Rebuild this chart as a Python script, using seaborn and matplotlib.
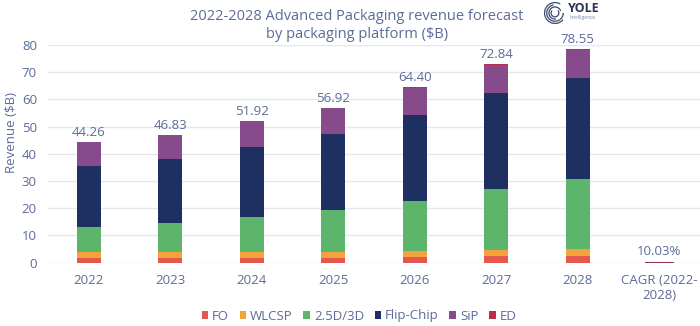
import matplotlib
matplotlib.use("Agg")
import matplotlib.pyplot as plt
import seaborn as sns
import pandas as pd
import numpy as np
from matplotlib.patches import Arc

years = ["2022", "2023", "2024", "2025", "2026", "2027", "2028"]
cagr_label = "CAGR (2022-\n2028)"
series = ["FO", "WLCSP", "2.5D/3D", "Flip-Chip", "SiP", "ED"]
fo = [1.6, 1.6, 1.8, 1.8, 2.2, 2.5, 2.6]
wlcsp = [2.2, 2.2, 2.2, 2.3, 2.2, 2.2, 2.4]
d25 = [9.2, 10.8, 12.8, 15.2, 18.4, 22.5, 25.9]
flipchip = [22.5, 23.4, 25.7, 28.0, 31.5, 35.2, 36.8]
sip = [8.7, 8.8, 9.4, 9.6, 10.0, 10.4, 10.5]
ed = [0.06, 0.03, 0.02, 0.02, 0.1, 0.04, 0.35]
totals = ["44.26", "46.83", "51.92", "56.92", "64.40", "72.84", "78.55"]
cagr_value = 0.35
cagr_text = "10.03%"
colors = ["#E5584F", "#F2A43A", "#5DB56B", "#1E3061", "#874A8A", "#BE2A50"]
cagr_color = "#8E3157"
text_color = "#5D6B98"

sns.set_theme(style="white")
plt.rcParams["font.family"] = ["Open Sans", "DejaVu Sans"]

categories = years + [cagr_label]
rows = []
for s, vals in zip(series, [fo, wlcsp, d25, flipchip, sip, ed]):
    for y, v in zip(years, vals):
        rows.append({"cat": y, "series": s, "value": v})
df = pd.DataFrame(rows)

fig = plt.figure(figsize=(7.0, 3.26), dpi=100)
ax = fig.add_axes([48/700, 1-262.7/326, 1-48/700, (262.7-45)/326])

bw = 0.295
bottom = np.zeros(len(years))
for s, c in zip(series, colors):
    sub = df[df["series"] == s].set_index("cat").loc[years]
    vals = sub["value"].values
    ax.bar(np.arange(len(years)), vals, bottom=bottom, width=bw, color=c,
           label=s, edgecolor="none", zorder=3)
    bottom = bottom + vals
ax.bar([len(years)], [cagr_value], width=bw*1.2, color=cagr_color, edgecolor="none", zorder=3)

for i, t in enumerate(totals):
    ax.text(i, bottom[i] + 1.2, t, ha="center", va="bottom", fontsize=9.5,
            color=text_color, clip_on=False)
ax.text(len(years), cagr_value + 1.2, cagr_text, ha="center", va="bottom",
        fontsize=9.5, color=text_color)

ax.set_xlim(-0.5, len(categories) - 0.5)
ax.set_ylim(0, 80)
ax.set_yticks(range(0, 81, 10))
ax.set_xticks(range(len(categories)))
ax.set_xticklabels(categories)
ax.tick_params(axis="both", colors=text_color, labelsize=9.5, length=0)
ax.tick_params(axis="x", pad=8)
ax.tick_params(axis="y", pad=8)
for lab in ax.get_xticklabels() + ax.get_yticklabels():
    lab.set_color(text_color)
ax.grid(axis="y", color="#E4E7EE", linewidth=1, zorder=0)
ax.grid(axis="x", visible=False)
for sp in ax.spines.values():
    sp.set_visible(False)
ax.set_ylabel("Revenue ($B)", color=text_color, fontsize=9.5)
ax.yaxis.set_label_coords(-30/652, 0.6)

handles, labels = ax.get_legend_handles_labels()
leg = fig.legend(handles, labels, loc="center", bbox_to_anchor=(359/700, 1-316/326),
                 ncol=6, frameon=False, fontsize=9.5, handlelength=0.5,
                 handleheight=0.5, handletextpad=0.3, columnspacing=0.8,
                 labelcolor=text_color)

fig.text(357/700, 1-17/326, "2022-2028 Advanced Packaging revenue forecast",
         ha="center", va="center", fontsize=10.5, color=text_color)
fig.text(357/700, 1-35/326, "by packaging platform ($B)",
         ha="center", va="center", fontsize=10.5, color=text_color)

# logo
lax = fig.add_axes([544/700, 1-24/326, 22/700, 22/326])
lax.set_xlim(-1, 1)
lax.set_ylim(-1, 1)
lax.axis("off")
for r, a0, a1 in [(0.95, 60, 320), (0.75, 100, 360), (0.55, 20, 280), (0.35, 140, 400)]:
    lax.add_patch(Arc((0, 0), 2*r, 2*r, theta1=a0, theta2=a1, color="#3C4A6E", lw=0.9))
fig.text(568/700, 1-9/326, "YOLE", ha="left", va="center", fontsize=9,
         fontweight="bold", color="#2B3554")
fig.text(570/700, 1-18/326, "Intelligence", ha="left", va="center", fontsize=3.5,
         color="#7A86A8")

fig.savefig("out.png", dpi=100)
